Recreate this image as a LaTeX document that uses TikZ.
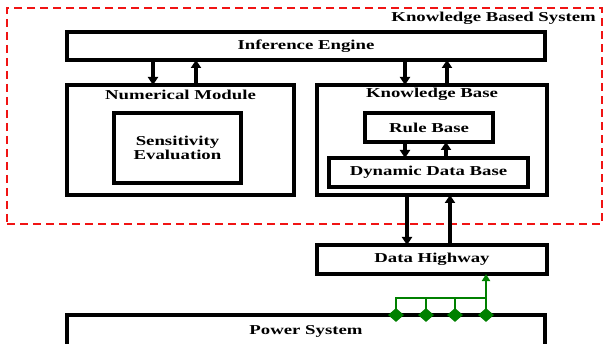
\documentclass[tikz,border=0pt]{standalone}
\usepackage{fontspec}
\setmainfont{Liberation Serif}
\usetikzlibrary{arrows.meta,shapes.geometric,calc}
\definecolor{kred}{RGB}{240,20,20}
\definecolor{kgreen}{RGB}{0,128,0}
\newcommand{\wt}[1]{\scalebox{1.38}[1]{\fontsize{13.6}{15}\selectfont\bfseries #1}}
\begin{document}
\begin{tikzpicture}[x=1pt,y=-1pt,
  box/.style={draw=black,line width=3.4pt,fill=white,inner sep=0pt,outer sep=0pt},
  arr/.style={line width=3.2pt,-{Triangle[width=10pt,length=8pt]}},
  garr/.style={draw=kgreen,line width=2.6pt,-{Triangle[width=8pt,length=7pt]}},
  gline/.style={draw=kgreen,line width=2.6pt},
  gdia/.style={diamond,fill=kgreen,draw=none,minimum width=16pt,minimum height=14pt,inner sep=0pt},
  title/.style={inner sep=0pt,anchor=center}]
\useasboundingbox (0,0) rectangle (604,344);
% knowledge based system frame
\node[draw=kred,dashed,dash pattern=on 8pt off 5pt,line width=2pt,minimum width=595pt,minimum height=216pt,inner sep=0pt] (kbs) at (304.5,116) {};
\node[title,anchor=east] (kbst) at (596,18.5) {\wt{Knowledge Based System}};
% boxes
\node[box,minimum width=478pt,minimum height=28pt] (ie) at (306,46) {\wt{Inference Engine}};
\node[box,minimum width=227pt,minimum height=110pt] (nm) at (180.5,140) {};
\node[title] (nmt) at (180.5,94.5) {\wt{Numerical Module}};
\node[box,minimum width=127pt,minimum height=70pt,align=center] (se) at (177.5,148) {\wt{Sensitivity}\\[1pt]\wt{Evaluation}};
\node[box,minimum width=230pt,minimum height=110pt] (kb) at (432,140) {};
\node[title] (kbt) at (432,94.5) {\wt{Knowledge Base}};
\node[box,minimum width=128pt,minimum height=29pt] (rb) at (429,127.5) {\wt{Rule Base}};
\node[box,minimum width=199pt,minimum height=29pt] (ddb) at (428.5,172.5) {\wt{Dynamic Data Base}};
\node[box,minimum width=230pt,minimum height=29pt] (dh) at (432,259.5) {\wt{Data Highway}};
\node[box,minimum width=478pt,minimum height=32pt] (ps) at (306,331) {\wt{Power System}};
% arrows
\draw[arr] (ie.south -| 153,0) -- (nm.north -| 153,0);
\draw[arr] (nm.north -| 196,0) -- (ie.south -| 196,0);
\draw[arr] (ie.south -| 405,0) -- (kb.north -| 405,0);
\draw[arr] (kb.north -| 447,0) -- (ie.south -| 447,0);
\draw[arr] (rb.south -| 405,0) -- (ddb.north -| 405,0);
\draw[arr] (ddb.north -| 446,0) -- (rb.south -| 446,0);
\draw[arr] (kb.south -| 407,0) -- (dh.north -| 407,0);
\draw[arr] (dh.north -| 450,0) -- (kb.south -| 450,0);
% green bus
\node[gdia] (d1) at (396,315) {};
\node[gdia] (d2) at (426,315) {};
\node[gdia] (d3) at (455,315) {};
\node[gdia] (d4) at (486,315) {};
\coordinate (b1) at (396,298);
\coordinate (b4) at (486,298);
\draw[gline] (d1.center) -- (b1) -- (b4);
\draw[gline] (d2.center) -- (d2.center |- b1);
\draw[gline] (d3.center) -- (d3.center |- b1);
\draw[garr] (d4.center) -- (dh.south -| d4.center);
\end{tikzpicture}
\end{document}
